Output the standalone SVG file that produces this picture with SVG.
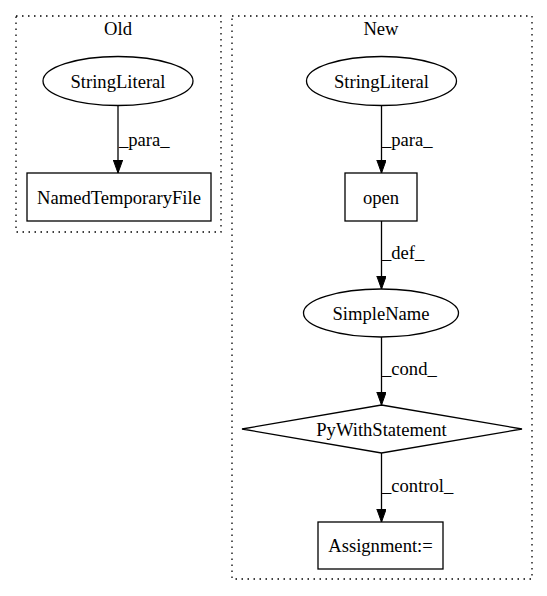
<svg xmlns="http://www.w3.org/2000/svg" width="547" height="596" viewBox="0 0 547 596">
<style>
.cl{fill:none;stroke:#000;stroke-width:1.3;stroke-dasharray:1.5,4.5}
.nd{fill:#fff;stroke:#000;stroke-width:1.3}
.t{font-family:"Liberation Serif","Times New Roman",serif;font-size:18.6px;fill:#000}
.c{text-anchor:middle}
.e{fill:none;stroke:#000;stroke-width:1.3;marker-end:url(#ah)}
</style>
<defs>
<marker id="ah" markerUnits="userSpaceOnUse" markerWidth="14" markerHeight="10" refX="13" refY="4.7" orient="auto">
<path d="M0,0 L13,4.7 L0,9.4 z" fill="#000" stroke="#000" stroke-width="1"/>
</marker>
</defs>
<rect width="547" height="596" fill="#fff"/>
<g id="cluster_old">
<rect class="cl" x="16" y="16" width="205" height="216"/>
<text class="t c" x="118" y="35">Old</text>
</g>
<g id="cluster_new">
<rect class="cl" x="232" y="16" width="300" height="563"/>
<text class="t c" x="381" y="35">New</text>
</g>
<g id="old_stringliteral">
<ellipse class="nd" cx="118" cy="81" rx="75" ry="24.5"/>
<text class="t c" x="118" y="87.5">StringLiteral</text>
</g>
<g id="old_namedtemporaryfile">
<rect class="nd" x="27" y="173" width="184" height="48"/>
<text class="t c" x="119" y="203.5">NamedTemporaryFile</text>
</g>
<g id="new_stringliteral">
<ellipse class="nd" cx="381.5" cy="81" rx="75" ry="24.5"/>
<text class="t c" x="381.5" y="87.5">StringLiteral</text>
</g>
<g id="new_open">
<rect class="nd" x="345" y="173" width="72" height="48"/>
<text class="t c" x="381" y="203.5">open</text>
</g>
<g id="new_simplename">
<ellipse class="nd" cx="381" cy="313" rx="77.5" ry="24"/>
<text class="t c" x="381" y="319.5">SimpleName</text>
</g>
<g id="new_pywithstatement">
<polygon class="nd" points="381.5,405 522,429 381.5,453 242,429"/>
<text class="t c" x="381.5" y="435.5">PyWithStatement</text>
</g>
<g id="new_assignment">
<rect class="nd" x="318" y="522" width="125" height="47"/>
<text class="t c" x="380.5" y="552">Assignment:=</text>
</g>
<g id="connectors">
<line class="e" x1="118" y1="105.5" x2="118" y2="173"/>
<text class="t" x="119" y="146">_para_</text>
<line class="e" x1="381.5" y1="105.5" x2="381.5" y2="173"/>
<text class="t" x="382" y="146">_para_</text>
<line class="e" x1="381.5" y1="221" x2="381.5" y2="289"/>
<text class="t" x="382" y="259">_def_</text>
<line class="e" x1="381.5" y1="337" x2="381.5" y2="405"/>
<text class="t" x="382" y="375">_cond_</text>
<line class="e" x1="381.5" y1="453" x2="381.5" y2="522"/>
<text class="t" x="382" y="492">_control_</text>
</g>
</svg>
